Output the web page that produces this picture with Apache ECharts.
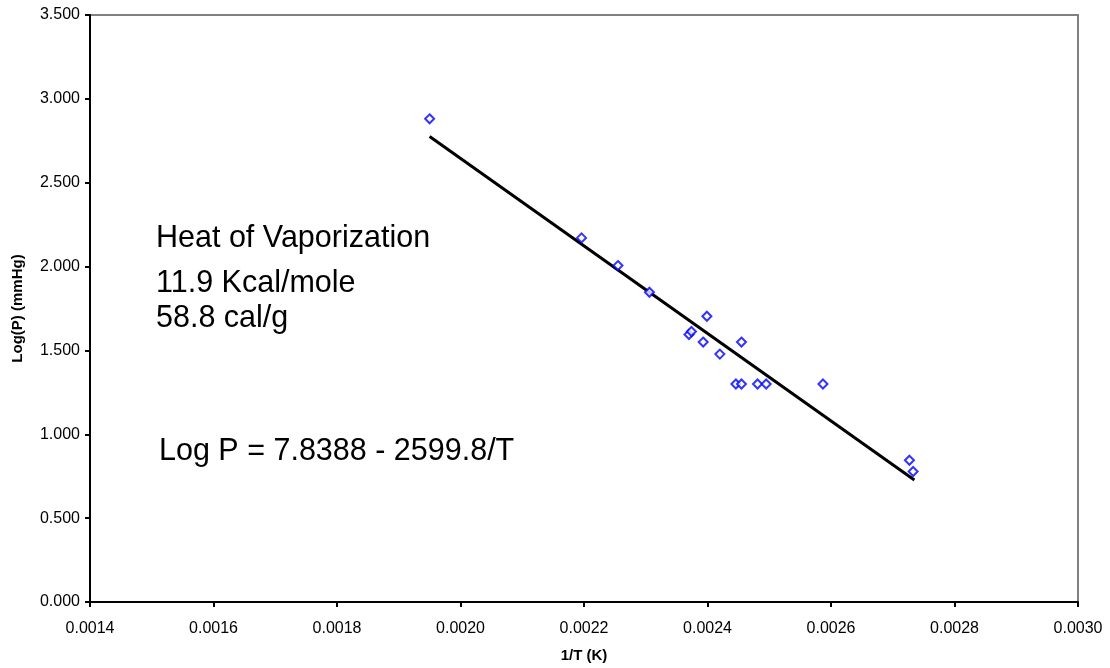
<!DOCTYPE html>
<html>
<head>
<meta charset="utf-8">
<script src="https://cdn.jsdelivr.net/npm/echarts@6/dist/echarts.min.js"></script>
<style>
  html, body { margin: 0; padding: 0; background: #fff; }
  #chart { width: 1110px; height: 668px; }
</style>
</head>
<body>
<div id="chart"></div>
<script>
// measured points, 1/T (K^-1) vs log10(P in mmHg)
const invT = [
  0.001950, 0.002196, 0.002255, 0.002306, 0.002399, 0.002370, 0.002374,
  0.002393, 0.002455, 0.002420, 0.002446, 0.002455, 0.002481, 0.002495,
  0.002587, 0.002727, 0.002733
];
const logP = [
  2.881, 2.171, 2.006, 1.847, 1.704, 1.595, 1.613,
  1.550, 1.550, 1.478, 1.300, 1.300, 1.300, 1.300,
  1.300, 0.845, 0.778
];
// linear trendline ends
const trendX = [0.001950, 0.002735];
const trendY = [2.776, 0.728];

const xTicks = ["0.0014", "0.0016", "0.0018", "0.0020", "0.0022", "0.0024", "0.0026", "0.0028", "0.0030"];
const yTicks = ["0.000", "0.500", "1.000", "1.500", "2.000", "2.500", "3.000", "3.500"];

const notes = ["Heat of Vaporization", "11.9 Kcal/mole", "58.8 cal/g", "Log P = 7.8388 - 2599.8/T"];

const chart = echarts.init(document.getElementById("chart"), null, { renderer: "canvas" });

const font = "Arial, 'Liberation Sans', sans-serif";
const axisLine = { show: true, onZero: false, lineStyle: { color: "#000", width: 2 } };
const tick = { show: true, inside: false, length: 5, lineStyle: { color: "#000", width: 2 } };

chart.setOption({
  backgroundColor: "#fff",
  animation: false,
  textStyle: { fontFamily: font },
  grid: {
    left: 90, right: 32, top: 15, bottom: 65,
    show: true, borderColor: "#808080", borderWidth: 2, backgroundColor: "transparent"
  },
  xAxis: {
    type: "value",
    min: 0.0014, max: 0.0030, interval: 0.0002,
    name: "1/T (K)",
    nameLocation: "middle",
    nameGap: 46,
    nameTextStyle: { color: "#000", fontWeight: "bold", fontSize: 15, fontFamily: font },
    axisLine: axisLine,
    axisTick: tick,
    axisLabel: {
      color: "#000", fontSize: 16, fontFamily: font, margin: 19,
      formatter: (v) => xTicks[Math.round((v - 0.0014) / 0.0002)] || ""
    },
    splitLine: { show: false }
  },
  yAxis: {
    type: "value",
    min: 0, max: 3.5, interval: 0.5,
    name: "Log(P) (mmHg)",
    nameLocation: "middle",
    nameGap: 65,
    nameTextStyle: { color: "#000", fontWeight: "bold", fontSize: 15, fontFamily: font },
    axisLine: axisLine,
    axisTick: tick,
    axisLabel: {
      color: "#000", fontSize: 16, fontFamily: font, margin: 10,
      formatter: (v) => yTicks[Math.round(v / 0.5)] || ""
    },
    splitLine: { show: false }
  },
  series: [
    {
      name: "trend",
      type: "line",
      data: trendX.map((x, i) => [x, trendY[i]]),
      showSymbol: false,
      lineStyle: { color: "#000", width: 3 },
      z: 2
    },
    {
      name: "data",
      type: "scatter",
      data: invT.map((x, i) => [x, logP[i]]),
      symbol: "diamond",
      symbolSize: 9,
      itemStyle: { color: "#fff", borderColor: "#0000ff", borderWidth: 2 },
      z: 3
    }
  ],
  graphic: [
    { type: "text", left: 156, top: 223, style: { text: notes[0], fontSize: 30.5, fontFamily: font, fill: "#000" } },
    { type: "text", left: 156, top: 268, style: { text: notes[1], fontSize: 30.5, fontFamily: font, fill: "#000" } },
    { type: "text", left: 156, top: 303, style: { text: notes[2], fontSize: 30.5, fontFamily: font, fill: "#000" } },
    { type: "text", left: 159, top: 436, style: { text: notes[3], fontSize: 30.5, fontFamily: font, fill: "#000" } }
  ]
});
</script>
</body>
</html>
